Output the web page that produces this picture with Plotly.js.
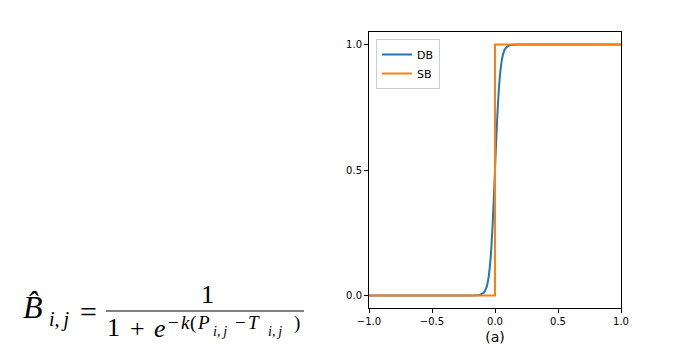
<!DOCTYPE html>
<html>
<head>
<meta charset="utf-8">
<script src="https://cdn.plot.ly/plotly-3.0.1.min.js"></script>
<style>html,body{margin:0;padding:0;background:#fff;}#chart{width:682px;height:354px;}</style>
</head>
<body>
<div id="chart"></div>
<script>
// Data
const dbX = [-1, -0.2, -0.15, -0.12, -0.1, -0.09, -0.08, -0.07, -0.06, -0.05, -0.04, -0.03, -0.02, -0.01, 0, 0.01, 0.02, 0.03, 0.04, 0.05, 0.06, 0.07, 0.08, 0.09, 0.1, 0.12, 0.15, 0.2, 1];
const dbY = [0, 0, 0.001, 0.002, 0.007, 0.011, 0.018, 0.029, 0.047, 0.076, 0.12, 0.182, 0.27, 0.378, 0.5, 0.622, 0.73, 0.818, 0.88, 0.924, 0.953, 0.971, 0.982, 0.989, 0.993, 0.998, 0.999, 1, 1];
const sbX = [-1, 0, 0, 1];
const sbY = [0, 0, 1, 1];
const xTicks = [-1, -0.5, 0, 0.5, 1];
const yTicks = [0, 0.5, 1];
const seriesNames = ['DB', 'SB'];
const xLabel = '(a)';

const W = 682, H = 354;
const L = 369, R = 621, T = 32, B = 308;
const px = x => (x - L) / (R - L);
const py = y => (B - y) / (B - T);
const serif = 'Liberation Serif, DejaVu Serif, serif';

function ann(text, x, y, size, xanchor) {
  return {text: text, x: px(x), y: py(y), xref: 'paper', yref: 'paper', showarrow: false,
          xanchor: xanchor || 'left', yanchor: 'middle', borderpad: 0,
          font: {family: serif, size: size, color: '#000'}};
}

const traces = [
  {x: dbX, y: dbY, name: seriesNames[0], mode: 'lines', line: {color: '#1f77b4', width: 2, shape: 'spline', smoothing: 0.6}},
  {x: sbX, y: sbY, name: seriesNames[1], mode: 'lines', line: {color: '#ff7f0e', width: 2}}
];

const layout = {
  width: W, height: H,
  margin: {l: L, r: W - R, t: T, b: H - B, pad: 0},
  paper_bgcolor: '#fff', plot_bgcolor: '#fff',
  font: {family: 'DejaVu Sans, sans-serif', size: 10, color: '#000'},
  showlegend: true,
  legend: {x: px(376), y: py(39), xanchor: 'left', yanchor: 'top',
           bgcolor: 'rgba(255,255,255,0.8)', bordercolor: '#cccccc', borderwidth: 1,
           font: {size: 11, color: '#000'}, tracegroupgap: 0},
  xaxis: {range: [-1, 1], tickvals: xTicks, tickformat: '.1f', ticks: 'outside', ticklen: 4, tickwidth: 1,
          tickcolor: '#000', showline: true, linecolor: '#000', linewidth: 1, mirror: true,
          showgrid: false, zeroline: false, tickfont: {size: 10},
          title: {text: xLabel, font: {size: 14, color: '#000'}, standoff: 6}},
  yaxis: {range: [-0.05, 1.05], tickvals: yTicks, tickformat: '.1f', ticks: 'outside', ticklen: 4, tickwidth: 1,
          tickcolor: '#000', showline: true, linecolor: '#000', linewidth: 1, mirror: true,
          showgrid: false, zeroline: false, tickfont: {size: 10}},
  shapes: [
    {type: 'line', xref: 'paper', yref: 'paper', x0: px(106), x1: px(304), y0: py(311), y1: py(311),
     line: {color: '#000', width: 1}}
  ],
  annotations: [
    ann('<i>B\u0302</i>', 22, 307, 32),
    ann('<i>i,\u2009j</i>', 48, 319, 20),
    ann('=', 88, 311, 30, 'center'),
    ann('1', 207, 294, 26, 'center'),
    ann('1', 113, 327, 26, 'center'),
    ann('+', 137, 328, 26, 'center'),
    ann('<i>e</i>', 153, 328, 26),
    ann('−', 173, 322, 19, 'center'),
    ann('<i>k</i>', 180, 322, 19),
    ann('(', 193, 323, 19, 'center'),
    ann('<i>P</i>', 196, 322, 19),
    ann('<i>i,\u2009j</i>', 212, 331, 14),
    ann('−', 240, 322, 19, 'center'),
    ann('<i>T</i>', 247, 322, 19),
    ann('<i>i,\u2009j</i>', 267, 331, 14),
    ann(')', 297, 323, 19, 'center')
  ]
};

Plotly.newPlot('chart', traces, layout, {staticPlot: true, displayModeBar: false});
</script>
</body>
</html>
